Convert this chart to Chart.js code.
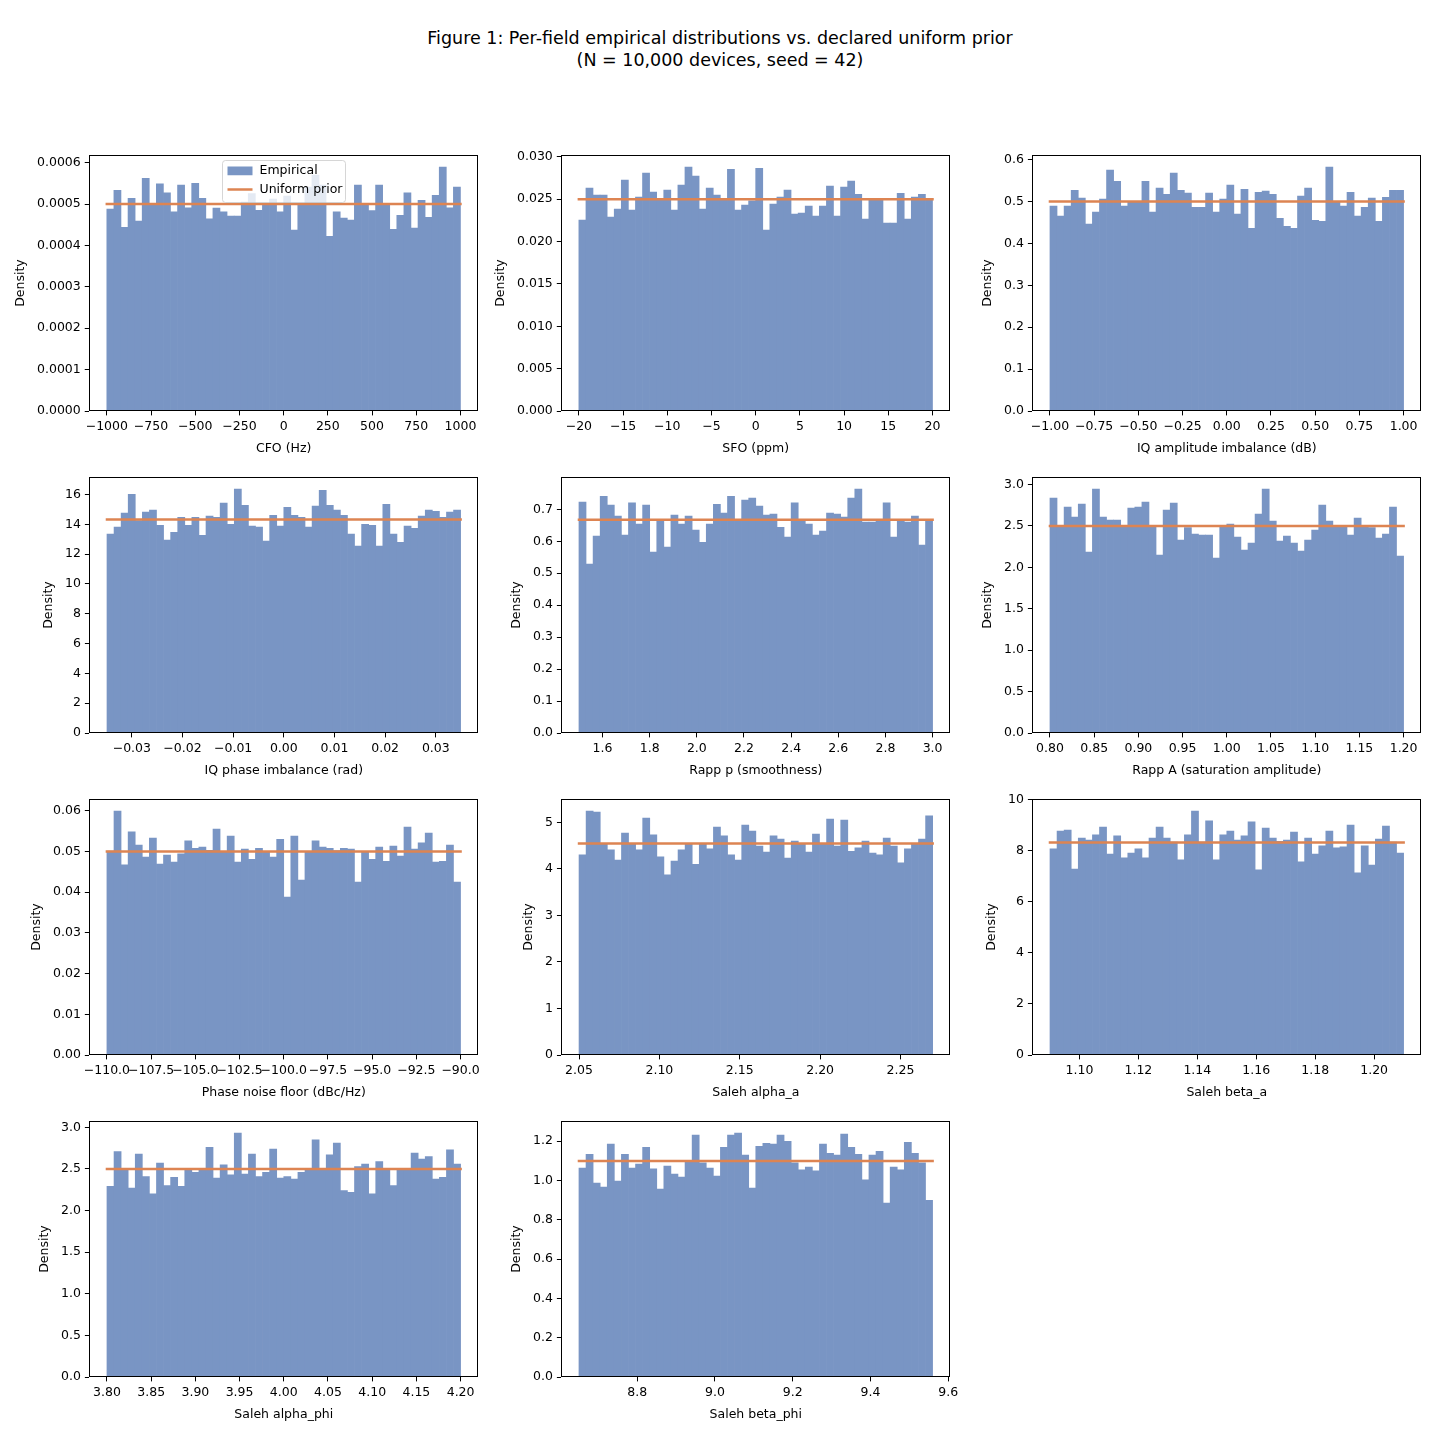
<!DOCTYPE html>
<html>
<head>
<meta charset="utf-8">
<script src="https://cdn.jsdelivr.net/npm/chart.js@4.4.1/dist/chart.umd.min.js"></script>
<style>
  body { margin: 0; width: 1440px; height: 1440px; position: relative; overflow: hidden; background: #fff; font-family: "DejaVu Sans", sans-serif; }
  #title { position: absolute; left: 0; top: 27px; width: 1440px; text-align: center; font-size: 17.5px; line-height: 22px; color: #000; }
  .panel { position: absolute; }
  .panel canvas { display: block; }
</style>
</head>
<body>
<div id="title">Figure 1: Per-field empirical distributions vs. declared uniform prior<br>(N = 10,000 devices, seed = 42)</div>
<script>
// field names (x axis titles) and declared uniform ranges
const fieldNames = ['CFO (Hz)', 'SFO (ppm)', 'IQ amplitude imbalance (dB)', 'IQ phase imbalance (rad)',
  'Rapp p (smoothness)', 'Rapp A (saturation amplitude)', 'Phase noise floor (dBc/Hz)',
  'Saleh alpha_a', 'Saleh beta_a', 'Saleh alpha_phi', 'Saleh beta_phi'];
const rangeLo = [-1000, -20, -1, -0.0349, 1.5, 0.8, -110, 2.05, 1.09, 3.8, 8.65];
const rangeHi = [1000, 20, 1, 0.0349, 3.0, 1.2, -90, 2.27, 1.21, 4.2, 9.56];
const priorDensity = [0.0005, 0.025, 0.5, 14.32, 0.667, 2.5, 0.05, 4.545, 8.333, 2.5, 1.099];

// empirical densities, 50 bins each
const cfoDensity = [0.000488, 0.000533, 0.000444, 0.000514, 0.000459, 0.000562, 0.000498, 0.000549, 0.000527, 0.000481,
  0.000546, 0.000491, 0.000550, 0.000514, 0.000464, 0.000490, 0.000481, 0.000471, 0.000471, 0.000505,
  0.000525, 0.000485, 0.000498, 0.000512, 0.000481, 0.000519, 0.000437, 0.000500, 0.000541, 0.000570,
  0.000546, 0.000422, 0.000481, 0.000466, 0.000461, 0.000546, 0.000498, 0.000484, 0.000546, 0.000497,
  0.000439, 0.000473, 0.000527, 0.000442, 0.000509, 0.000468, 0.000521, 0.000589, 0.000491, 0.000541];
const sfoDensity = [0.02252, 0.02630, 0.02547, 0.02547, 0.02288, 0.02382, 0.02724, 0.02370, 0.02524, 0.02807,
  0.02583, 0.02490, 0.02606, 0.02370, 0.02665, 0.02877, 0.02771, 0.02382, 0.02630, 0.02547,
  0.02490, 0.02853, 0.02370, 0.02429, 0.02480, 0.02865, 0.02134, 0.02441, 0.02524, 0.02606,
  0.02323, 0.02335, 0.02417, 0.02299, 0.02417, 0.02653, 0.02299, 0.02641, 0.02712, 0.02558,
  0.02264, 0.02490, 0.02490, 0.02217, 0.02217, 0.02570, 0.02264, 0.02524, 0.02558, 0.02490];
const iqAmpDensity = [0.489, 0.465, 0.489, 0.527, 0.508, 0.446, 0.475, 0.506, 0.575, 0.548,
  0.489, 0.498, 0.499, 0.548, 0.475, 0.532, 0.517, 0.568, 0.527, 0.520,
  0.486, 0.486, 0.520, 0.475, 0.506, 0.539, 0.470, 0.529, 0.436, 0.522,
  0.525, 0.517, 0.460, 0.441, 0.436, 0.513, 0.532, 0.455, 0.453, 0.582,
  0.498, 0.489, 0.522, 0.465, 0.486, 0.508, 0.453, 0.510, 0.527, 0.527];
const iqPhaseDensity = [13.34, 13.81, 14.75, 16.02, 14.25, 14.82, 14.95, 13.94, 12.94, 13.47,
  14.48, 13.94, 14.48, 13.27, 14.55, 14.48, 15.42, 14.01, 16.36, 15.28,
  13.88, 13.81, 12.87, 14.61, 13.88, 15.15, 14.61, 14.48, 13.81, 15.22,
  16.29, 15.28, 14.95, 14.61, 13.34, 12.54, 14.01, 13.94, 12.54, 15.35,
  13.34, 12.80, 13.88, 13.74, 14.55, 14.95, 14.88, 14.48, 14.82, 14.95];
const rappPDensity = [0.723, 0.529, 0.616, 0.741, 0.713, 0.679, 0.619, 0.720, 0.654, 0.713,
  0.566, 0.665, 0.582, 0.682, 0.654, 0.679, 0.635, 0.597, 0.654, 0.716,
  0.688, 0.741, 0.668, 0.729, 0.735, 0.710, 0.682, 0.685, 0.644, 0.613,
  0.720, 0.664, 0.654, 0.619, 0.632, 0.688, 0.685, 0.676, 0.735, 0.763,
  0.660, 0.660, 0.668, 0.720, 0.613, 0.665, 0.660, 0.679, 0.588, 0.666];
const rappADensity = [2.835, 2.49, 2.726, 2.606, 2.762, 2.183, 2.943, 2.606, 2.569, 2.569,
  2.50, 2.714, 2.726, 2.787, 2.49, 2.147, 2.690, 2.774, 2.328, 2.48,
  2.400, 2.388, 2.388, 2.111, 2.49, 2.521, 2.364, 2.207, 2.292, 2.642,
  2.943, 2.557, 2.316, 2.376, 2.292, 2.195, 2.328, 2.449, 2.750, 2.557,
  2.50, 2.49, 2.388, 2.593, 2.49, 2.48, 2.352, 2.400, 2.726, 2.135];
const phaseNoiseDensity = [0.0501, 0.0599, 0.0467, 0.0548, 0.0516, 0.0486, 0.0533, 0.0469, 0.0491, 0.0474,
  0.0494, 0.0526, 0.0508, 0.0511, 0.0503, 0.0555, 0.0500, 0.0538, 0.0474, 0.0506,
  0.0481, 0.0508, 0.0499, 0.0486, 0.0530, 0.0388, 0.0538, 0.0430, 0.0500, 0.0526,
  0.0511, 0.0508, 0.0502, 0.0508, 0.0506, 0.0425, 0.0499, 0.0481, 0.0511, 0.0476,
  0.0513, 0.0489, 0.0560, 0.0506, 0.0521, 0.0545, 0.0474, 0.0476, 0.0516, 0.0425];
const salehAlphaADensity = [4.30, 5.24, 5.22, 4.53, 4.41, 4.19, 4.77, 4.54, 4.41, 5.09,
  4.73, 4.26, 3.87, 4.17, 4.41, 4.53, 4.10, 4.55, 4.43, 4.90,
  4.71, 4.30, 4.19, 4.94, 4.81, 4.49, 4.36, 4.71, 4.64, 4.23,
  4.60, 4.55, 4.36, 4.75, 4.54, 5.07, 4.49, 5.05, 4.38, 4.45,
  4.60, 4.34, 4.30, 4.66, 4.49, 4.13, 4.43, 4.55, 4.64, 5.14];
const salehBetaADensity = [8.08, 8.78, 8.82, 7.29, 8.51, 8.43, 8.63, 8.94, 7.88, 8.59,
  7.73, 7.92, 8.08, 7.73, 8.51, 8.94, 8.51, 8.35, 7.65, 8.63,
  9.56, 8.35, 9.18, 7.65, 8.63, 8.78, 8.43, 8.59, 9.14, 7.26,
  8.90, 8.51, 8.38, 8.43, 8.74, 7.57, 8.51, 7.88, 8.20, 8.78,
  8.12, 8.16, 9.02, 7.14, 8.20, 7.45, 8.47, 8.98, 8.35, 7.92];
const salehAlphaPhiDensity = [2.29, 2.71, 2.49, 2.27, 2.68, 2.41, 2.20, 2.57, 2.30, 2.40,
  2.29, 2.49, 2.46, 2.49, 2.76, 2.39, 2.55, 2.43, 2.93, 2.44,
  2.68, 2.41, 2.46, 2.74, 2.39, 2.41, 2.38, 2.46, 2.49, 2.85,
  2.49, 2.67, 2.81, 2.24, 2.22, 2.53, 2.56, 2.20, 2.59, 2.49,
  2.30, 2.49, 2.50, 2.69, 2.62, 2.65, 2.38, 2.40, 2.73, 2.56];
const salehBetaPhiDensity = [1.064, 1.134, 0.987, 0.967, 1.185, 0.997, 1.134, 1.064, 1.084, 1.169,
  1.059, 0.957, 1.074, 1.033, 1.018, 1.095, 1.231, 1.090, 1.064, 1.023,
  1.169, 1.231, 1.241, 1.129, 0.962, 1.174, 1.190, 1.185, 1.231, 1.200,
  1.090, 1.054, 1.069, 1.049, 1.185, 1.139, 1.129, 1.236, 1.169, 1.134,
  1.003, 1.129, 1.149, 0.885, 1.069, 1.054, 1.195, 1.139, 1.090, 0.899];

const densities = [cfoDensity, sfoDensity, iqAmpDensity, iqPhaseDensity, rappPDensity, rappADensity,
  phaseNoiseDensity, salehAlphaADensity, salehBetaADensity, salehAlphaPhiDensity, salehBetaPhiDensity];

// tick values and label decimals per panel
const xTicks = [
  [-1000, -750, -500, -250, 0, 250, 500, 750, 1000],
  [-20, -15, -10, -5, 0, 5, 10, 15, 20],
  [-1, -0.75, -0.5, -0.25, 0, 0.25, 0.5, 0.75, 1],
  [-0.03, -0.02, -0.01, 0, 0.01, 0.02, 0.03],
  [1.6, 1.8, 2.0, 2.2, 2.4, 2.6, 2.8, 3.0],
  [0.8, 0.85, 0.9, 0.95, 1.0, 1.05, 1.1, 1.15, 1.2],
  [-110, -107.5, -105, -102.5, -100, -97.5, -95, -92.5, -90],
  [2.05, 2.1, 2.15, 2.2, 2.25],
  [1.1, 1.12, 1.14, 1.16, 1.18, 1.2],
  [3.8, 3.85, 3.9, 3.95, 4.0, 4.05, 4.1, 4.15, 4.2],
  [8.8, 9.0, 9.2, 9.4, 9.6]
];
const yTicks = [
  [0, 0.0001, 0.0002, 0.0003, 0.0004, 0.0005, 0.0006],
  [0, 0.005, 0.01, 0.015, 0.02, 0.025, 0.03],
  [0, 0.1, 0.2, 0.3, 0.4, 0.5, 0.6],
  [0, 2, 4, 6, 8, 10, 12, 14, 16],
  [0, 0.1, 0.2, 0.3, 0.4, 0.5, 0.6, 0.7],
  [0, 0.5, 1.0, 1.5, 2.0, 2.5, 3.0],
  [0, 0.01, 0.02, 0.03, 0.04, 0.05, 0.06],
  [0, 1, 2, 3, 4, 5],
  [0, 2, 4, 6, 8, 10],
  [0, 0.5, 1.0, 1.5, 2.0, 2.5, 3.0],
  [0, 0.2, 0.4, 0.6, 0.8, 1.0, 1.2]
];
const xDecimals = [0, 0, 2, 2, 1, 2, 1, 2, 2, 2, 1];
const yDecimals = [4, 3, 1, 0, 1, 1, 2, 0, 0, 1, 1];

// layout
const panelLeft = [89, 561.5, 1032.3];
const panelTop = [155, 477, 799, 1121];
const PW = 389, PH = 256;
const barColor = '#7995C4';   // #4C72B0 at 75% on white
const lineColor = '#DD8452';
const FONT = 12.5;

Chart.defaults.font.family = "'DejaVu Sans', sans-serif";
Chart.defaults.font.size = FONT;
Chart.defaults.color = '#000';

function fmt(v, d) {
  return (v < 0 ? '\u2212' : '') + Math.abs(v).toFixed(d);
}

// full box around the axes
const spines = {
  id: 'spines',
  afterDatasetsDraw(chart) {
    const { ctx, chartArea: a } = chart;
    ctx.save();
    ctx.strokeStyle = '#000';
    ctx.lineWidth = 1;
    const l = Math.round(a.left) + 0.5, t = Math.round(a.top) + 0.5;
    const r = Math.round(a.right) - 0.5, b = Math.round(a.bottom) - 0.5;
    ctx.strokeRect(l, t, r - l, b - t);
    ctx.restore();
  }
};

// matplotlib-style legend box inside the first panel
const legendBox = {
  id: 'legendBox',
  afterDraw(chart) {
    const { ctx, chartArea: a } = chart;
    const ds = chart.data.datasets;
    const w = 123, h = 42;
    const x = Math.round((a.left + a.right) / 2 - w / 2) + 0.5, y = Math.round(a.top + 5) + 0.5;
    ctx.save();
    ctx.beginPath();
    ctx.roundRect(x, y, w, h, 3);
    ctx.fillStyle = 'rgba(255,255,255,0.8)';
    ctx.fill();
    ctx.strokeStyle = 'rgba(204,204,204,0.8)';
    ctx.lineWidth = 1;
    ctx.stroke();
    ctx.fillStyle = ds[0].backgroundColor;
    ctx.fillRect(x + 5, y + 6, 25, 8.75);
    ctx.strokeStyle = ds[1].borderColor;
    ctx.lineWidth = 2.5;
    ctx.beginPath();
    ctx.moveTo(x + 5, y + 29);
    ctx.lineTo(x + 30, y + 29);
    ctx.stroke();
    ctx.fillStyle = '#000';
    ctx.font = FONT + "px 'DejaVu Sans'";
    ctx.textBaseline = 'middle';
    ctx.fillText(ds[0].label, x + 37, y + 10.5);
    ctx.fillText(ds[1].label, x + 37, y + 29);
    ctx.restore();
  }
};

function axisCommon(ticks, dec) {
  return {
    type: 'linear',
    offset: false,
    afterBuildTicks: s => { s.ticks = ticks.map(v => ({ value: v })); },
    ticks: { callback: v => fmt(v, dec), padding: 4, autoSkip: false, maxRotation: 0, minRotation: 0, color: '#000' },
    grid: { display: true, drawOnChartArea: false, drawTicks: true, tickLength: 4.4, color: '#000', lineWidth: 1, offset: false },
    border: { display: false }
  };
}

function buildConfig(i, pad) {
  const lo = rangeLo[i], hi = rangeHi[i], vals = densities[i];
  const span = hi - lo, bw = span / vals.length;
  const yMax = Math.max(...vals, priorDensity[i]) * 1.05;
  const xs = axisCommon(xTicks[i], xDecimals[i]);
  const ys = axisCommon(yTicks[i], yDecimals[i]);
  return {
    type: 'bar',
    data: {
      datasets: [
        {
          type: 'bar', label: 'Empirical',
          data: vals.map((v, k) => ({ x: lo + (k + 0.5) * bw, y: v })),
          backgroundColor: barColor, borderWidth: 0,
          barPercentage: 1, categoryPercentage: 1, order: 2
        },
        {
          type: 'line', label: 'Uniform prior',
          data: [{ x: lo, y: priorDensity[i] }, { x: hi, y: priorDensity[i] }],
          borderColor: lineColor, borderWidth: 2.5, borderCapStyle: 'square',
          pointRadius: 0, fill: false, order: 1
        }
      ]
    },
    options: {
      responsive: false, maintainAspectRatio: false, animation: false, devicePixelRatio: 1,
      layout: { padding: pad },
      plugins: { legend: { display: false }, tooltip: { enabled: false } },
      scales: {
        x: Object.assign(xs, {
          min: lo - 0.05 * span, max: hi + 0.05 * span,
          title: { display: true, text: fieldNames[i], color: '#000', padding: { top: 3, bottom: 0 } }
        }),
        y: Object.assign(ys, {
          min: 0, max: yMax,
          title: { display: true, text: 'Density', color: '#000', padding: { top: 0, bottom: 5 } }
        })
      }
    },
    plugins: i === 0 ? [spines, legendBox] : [spines]
  };
}

densities.forEach((_, i) => {
  const wrap = document.createElement('div');
  wrap.className = 'panel';
  const canvas = document.createElement('canvas');
  const W0 = 540, H0 = 360;
  canvas.width = W0; canvas.height = H0;
  wrap.appendChild(canvas);
  document.body.appendChild(wrap);

  // first pass: measure axis sizes
  const pad0 = { top: 15, right: 30, bottom: 4, left: 4 };
  let chart = new Chart(canvas, buildConfig(i, pad0));
  let ca = chart.chartArea;
  const xh = (H0 - pad0.bottom) - ca.bottom;
  const W = Math.ceil(ca.left + PW + 30);
  const H = Math.ceil(ca.top + PH + xh + 4);
  const pad = { top: 15, left: 4, right: W - ca.left - PW, bottom: H - ca.top - PH - xh };
  chart.destroy();

  // second pass: exact plot area size
  canvas.width = W; canvas.height = H;
  canvas.style.width = W + 'px'; canvas.style.height = H + 'px';
  chart = new Chart(canvas, buildConfig(i, pad));
  ca = chart.chartArea;
  const col = i % 3, row = Math.floor(i / 3);
  wrap.style.left = Math.round(panelLeft[col] - ca.left) + 'px';
  wrap.style.top = Math.round(panelTop[row] - ca.top) + 'px';
});
</script>
</body>
</html>
